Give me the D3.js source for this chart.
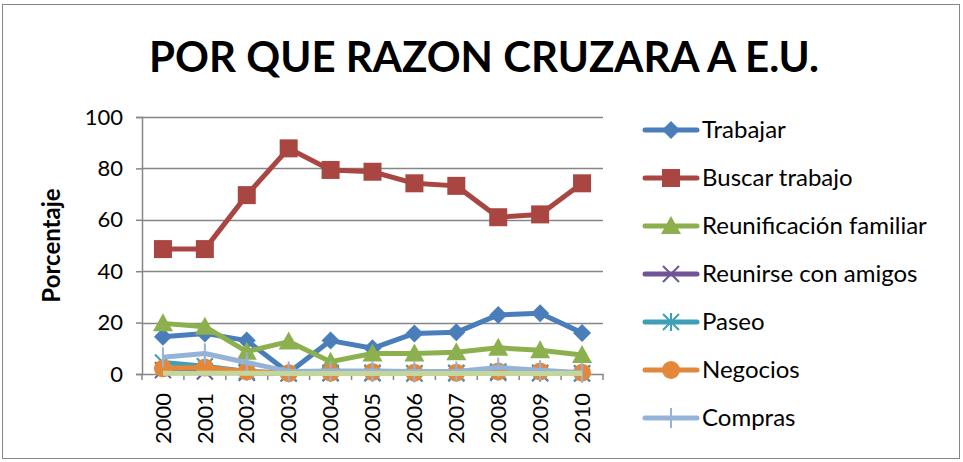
<!DOCTYPE html>
<html>
<head>
<meta charset="utf-8">
<script src="https://cdnjs.cloudflare.com/ajax/libs/d3/7.8.5/d3.min.js"></script>
<style>
  body { margin: 0; background: #fff; }
  svg text { font-family: Lato, "Open Sans", sans-serif; fill: #000; }
</style>
</head>
<body>
<div id="chart"></div>
<script>
// categories
const years = ["2000","2001","2002","2003","2004","2005","2006","2007","2008","2009","2010"];

// series values (percent)
const trabajar      = [14.5, 15.8, 13.0, 0.5, 13.0, 10.0, 15.8, 16.2, 23.0, 23.6, 16.0];
const buscarTrabajo = [48.6, 48.6, 69.6, 87.8, 79.4, 78.7, 74.2, 73.2, 61.0, 62.1, 74.2];
const reunificacion = [19.7, 18.4, 8.7, 12.6, 4.8, 8.0, 8.0, 8.5, 10.2, 9.2, 7.4];
const reunirse      = [1.5, 1.0, 0.5, 0.2, 0.3, 0.3, 0.2, 0.3, 0.5, 0.3, 0.2];
const paseo         = [4.5, 3.0, 1.0, 0.3, 0.5, 0.5, 0.3, 0.5, 1.0, 0.5, 0.3];
const negocios      = [2.2, 2.5, 1.0, 0.3, 0.5, 0.8, 0.5, 0.5, 1.0, 1.0, 0.5];
const compras       = [6.5, 8.0, 4.5, 1.0, 1.2, 1.2, 1.0, 1.0, 2.5, 1.5, 0.5];
const otros         = [0.3, 0.3, 0.3, 0.2, 0.2, 0.2, 0.2, 0.2, 0.2, 0.2, 0.2];

const yTicks = [0, 20, 40, 60, 80, 100];

const series = [
  {name: "Trabajar", values: trabajar, color: "#4a7ebb", marker: "diamond"},
  {name: "Buscar trabajo", values: buscarTrabajo, color: "#a94642", marker: "square"},
  {name: "Reunificación familiar", values: reunificacion, color: "#8db04f", marker: "triangle"},
  {name: "Reunirse con amigos", values: reunirse, color: "#6f5597", marker: "x"},
  {name: "Paseo", values: paseo, color: "#3d9fb8", marker: "star"},
  {name: "Negocios", values: negocios, color: "#e3873b", marker: "circle"},
  {name: "Compras", values: compras, color: "#95b3d7", marker: "plus"},
  {name: "", values: otros, color: "#c3d69b", marker: "none"}
];

const W = 963, H = 462;
const margin = {top: 117, left: 142, right: 360, bottom: 88};
const width = W - margin.left - margin.right;
const height = H - margin.top - margin.bottom;

const svg = d3.select("#chart").append("svg")
  .attr("width", W).attr("height", H);

// chart border
svg.append("rect")
  .attr("x", 2.5).attr("y", 4.5).attr("width", 957).attr("height", 454)
  .attr("fill", "#fff").attr("stroke", "#868686").attr("stroke-width", 1);

// title
svg.append("text")
  .attr("x", 484).attr("y", 72)
  .attr("text-anchor", "middle")
  .style("font-size", "42px").style("font-weight", "bold")
  .text("POR QUE RAZON CRUZARA A E.U.");

const g = svg.append("g")
  .attr("transform", "translate(" + margin.left + "," + margin.top + ")");

const x = d3.scaleBand().domain(years).range([0, width]);
const y = d3.scaleLinear().domain([0, 100]).range([height, 0]);

// gridlines
g.append("g")
  .selectAll("line")
  .data(yTicks.filter(d => d > 0))
  .enter().append("line")
  .attr("x1", 0).attr("x2", width)
  .attr("y1", d => Math.round(y(d)) + 0.5).attr("y2", d => Math.round(y(d)) + 0.5)
  .attr("stroke", "#868686").attr("stroke-width", 1.5);

// y axis
const yAxis = g.append("g")
  .call(d3.axisLeft(y).tickValues(yTicks).tickSize(6).tickPadding(13));
yAxis.selectAll("text").style("font-size", "22px");
yAxis.select(".domain").attr("stroke", "#868686").attr("stroke-width", 1.5);
yAxis.selectAll(".tick line").attr("stroke", "#868686").attr("stroke-width", 1.5);

// x axis
const xAxis = g.append("g")
  .attr("transform", "translate(0," + height + ")")
  .call(d3.axisBottom(x).tickSize(0).tickPadding(0));
xAxis.select(".domain").attr("stroke", "#868686").attr("stroke-width", 1.5);
xAxis.selectAll("text")
  .style("font-size", "22px")
  .attr("text-anchor", "end")
  .attr("transform", "translate(0,19) rotate(-90)")
  .attr("dx", 0).attr("dy", "0.35em").attr("y", 0).attr("x", 0);
// boundary ticks between categories
g.append("g").selectAll("line")
  .data(d3.range(years.length + 1))
  .enter().append("line")
  .attr("x1", i => i * x.step()).attr("x2", i => i * x.step())
  .attr("y1", height).attr("y2", height + 6)
  .attr("stroke", "#868686").attr("stroke-width", 1.5);

// y axis title
svg.append("text")
  .attr("transform", "translate(60," + (margin.top + height / 2) + ") rotate(-90)")
  .attr("text-anchor", "middle")
  .style("font-size", "24px").style("font-weight", "bold")
  .text("Porcentaje");

const line = d3.line()
  .x((d, i) => x(years[i]) + x.bandwidth() / 2)
  .y(d => y(d));

function drawMarker(sel, type, color, cx, cy) {
  if (type === "diamond") {
    sel.append("path").attr("d", `M${cx},${cy-9}L${cx+9},${cy}L${cx},${cy+9}L${cx-9},${cy}Z`)
      .attr("fill", color);
  } else if (type === "square") {
    sel.append("rect").attr("x", cx - 9).attr("y", cy - 9).attr("width", 18).attr("height", 18)
      .attr("fill", color);
  } else if (type === "triangle") {
    sel.append("path").attr("d", `M${cx},${cy-10}L${cx+10},${cy+8}L${cx-10},${cy+8}Z`)
      .attr("fill", color);
  } else if (type === "circle") {
    sel.append("circle").attr("cx", cx).attr("cy", cy).attr("r", 9).attr("fill", color);
  } else if (type === "x") {
    sel.append("path").attr("d", `M${cx-8},${cy-8}L${cx+8},${cy+8}M${cx-8},${cy+8}L${cx+8},${cy-8}`)
      .attr("stroke", color).attr("stroke-width", 2);
  } else if (type === "star") {
    sel.append("path").attr("d", `M${cx-8},${cy-8}L${cx+8},${cy+8}M${cx-8},${cy+8}L${cx+8},${cy-8}M${cx},${cy-9}L${cx},${cy+9}`)
      .attr("stroke", color).attr("stroke-width", 2);
  } else if (type === "plus") {
    sel.append("path").attr("d", `M${cx},${cy-10}L${cx},${cy+10}`)
      .attr("stroke", color).attr("stroke-width", 2);
  }
}

series.forEach(s => {
  const sg = g.append("g");
  sg.append("path")
    .datum(s.values)
    .attr("fill", "none")
    .attr("stroke", s.color)
    .attr("stroke-width", 5)
    .attr("stroke-linejoin", "round")
    .attr("d", line);
  s.values.forEach((v, i) => {
    drawMarker(sg, s.marker, s.color, x(years[i]) + x.bandwidth() / 2, y(v));
  });
});

// legend
const legend = svg.append("g");
series.filter(s => s.name).forEach((s, i) => {
  const ly = 130 + i * 48;
  const lg = legend.append("g");
  lg.append("line")
    .attr("x1", 645).attr("x2", 697).attr("y1", ly).attr("y2", ly)
    .attr("stroke", s.color).attr("stroke-width", 5).attr("stroke-linecap", "round");
  drawMarker(lg, s.marker, s.color, 671, ly);
  lg.append("text")
    .attr("x", 702).attr("y", ly).attr("dy", "0.35em")
    .style("font-size", "24px")
    .text(s.name);
});
</script>
</body>
</html>
